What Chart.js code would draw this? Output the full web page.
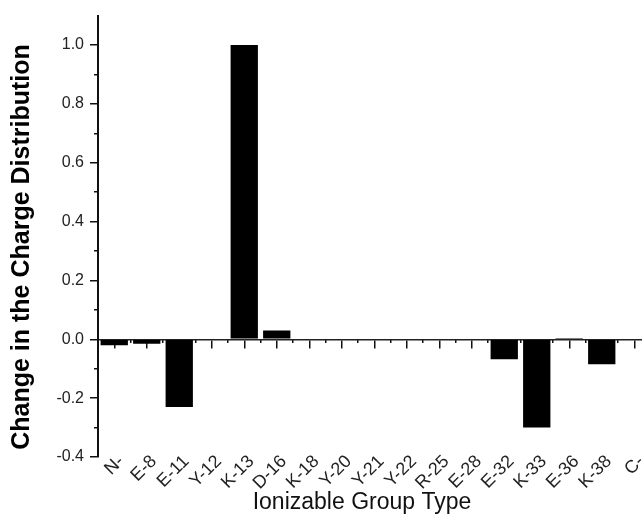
<!DOCTYPE html>
<html>
<head>
<meta charset="utf-8">
<script src="https://cdn.jsdelivr.net/npm/chart.js@4/dist/chart.umd.min.js"></script>
<style>
  html, body { margin: 0; padding: 0; background: #fff; overflow: hidden; }
  #wrap { width: 642px; height: 516px; overflow: hidden; }
  canvas { display: block; }
</style>
</head>
<body>
<div id="wrap"><canvas id="c" width="660" height="516"></canvas></div>
<script>
// Ionizable groups along the chain
const categories = ['N-', 'E-8', 'E-11', 'Y-12', 'K-13', 'D-16', 'K-18', 'Y-20', 'Y-21',
                    'Y-22', 'R-25', 'E-28', 'E-32', 'K-33', 'E-36', 'K-38', 'C-'];
// Change in the charge distribution for each group
const chargeChange = [-0.02, -0.015, -0.23, 0, 1.0, 0.03, 0, 0, 0,
                      0, 0, 0, -0.068, -0.30, 0.004, -0.085, 0];
// Labelled (major) and unlabelled (minor) y ticks
const yMajorTicks = [-0.4, -0.2, 0.0, 0.2, 0.4, 0.6, 0.8, 1.0];
const yMinorTicks = [-0.3, -0.1, 0.1, 0.3, 0.5, 0.7, 0.9];
const yMin = -0.4;
const yMax = 1.1;

const yTitle = 'Change in the Charge Distribution';
const xTitle = 'Ionizable Group Type';

const FONT = 'Liberation Sans, Arial, Helvetica, sans-serif';
const AXIS = '#111';

// Axis titles, placed relative to the plot area
const axisTitles = {
  id: 'axisTitles',
  afterDraw(chart) {
    const { ctx, chartArea } = chart;
    const visibleRight = document.getElementById('wrap').clientWidth - 16;
    ctx.save();
    ctx.fillStyle = '#111';
    ctx.textAlign = 'center';
    ctx.textBaseline = 'middle';
    ctx.font = '23px ' + FONT;
    ctx.fillText(xTitle, (chartArea.left + visibleRight) / 2, chartArea.bottom + 46);
    ctx.translate(22, chartArea.bottom - 210);
    ctx.rotate(-Math.PI / 2);
    ctx.font = 'bold 25px ' + FONT;
    ctx.fillStyle = '#000';
    ctx.fillText(yTitle, 0, 0);
    ctx.restore();
  }
};

new Chart(document.getElementById('c'), {
  type: 'bar',
  data: {
    labels: categories,
    datasets: [{
      data: chargeChange,
      backgroundColor: '#000',
      borderWidth: 0,
      barPercentage: 0.84,
      categoryPercentage: 1.0,
      xAxisID: 'x',
      yAxisID: 'y'
    }]
  },
  options: {
    responsive: false,
    devicePixelRatio: 1,
    animation: false,
    layout: { padding: { top: 13, right: 9.5, bottom: 59, left: 0 } },
    plugins: { legend: { display: false }, tooltip: { enabled: false } },
    scales: {
      // Category labels hanging below the bottom of the value range
      x: {
        type: 'category',
        position: { y: yMin },
        offset: true,
        grid: { display: false, drawTicks: false },
        border: { display: false },
        ticks: {
          autoSkip: false,
          minRotation: 45,
          maxRotation: 45,
          padding: -6,
          labelOffset: 7,
          color: '#222',
          font: { family: FONT, size: 18 }
        }
      },
      // Zero line with major ticks at each group
      xZero: {
        type: 'category',
        position: { y: 0 },
        offset: true,
        grid: { offset: false, drawOnChartArea: false, drawTicks: true, tickLength: 8, color: AXIS, lineWidth: 1.5 },
        border: { display: true, color: '#222', width: 1.5 },
        ticks: { display: false }
      },
      // Minor ticks between groups
      xMinor: {
        type: 'category',
        position: { y: 0 },
        offset: true,
        grid: { offset: true, drawOnChartArea: false, drawTicks: true, tickLength: 4, color: AXIS, lineWidth: 1.5 },
        border: { display: false },
        ticks: { display: false }
      },
      y: {
        type: 'linear',
        position: 'left',
        min: yMin,
        max: yMax,
        afterBuildTicks(scale) { scale.ticks = yMajorTicks.map(v => ({ value: v })); },
        afterFit(scale) { scale.width = 98; },
        grid: { drawOnChartArea: false, drawTicks: true, tickLength: 8, color: AXIS, lineWidth: 1.5 },
        border: { display: true, color: AXIS, width: 2 },
        ticks: {
          padding: 6,
          color: '#222',
          font: { family: FONT, size: 16 },
          callback: v => Number(v).toFixed(1)
        }
      },
      yMinor: {
        type: 'linear',
        position: { x: -0.5 },
        min: yMin,
        max: yMax,
        afterBuildTicks(scale) { scale.ticks = yMinorTicks.map(v => ({ value: v })); },
        grid: { drawOnChartArea: false, drawTicks: true, tickLength: 4, color: AXIS, lineWidth: 1.5 },
        border: { display: false },
        ticks: { display: false }
      }
    }
  },
  plugins: [axisTitles]
});
</script>
</body>
</html>
